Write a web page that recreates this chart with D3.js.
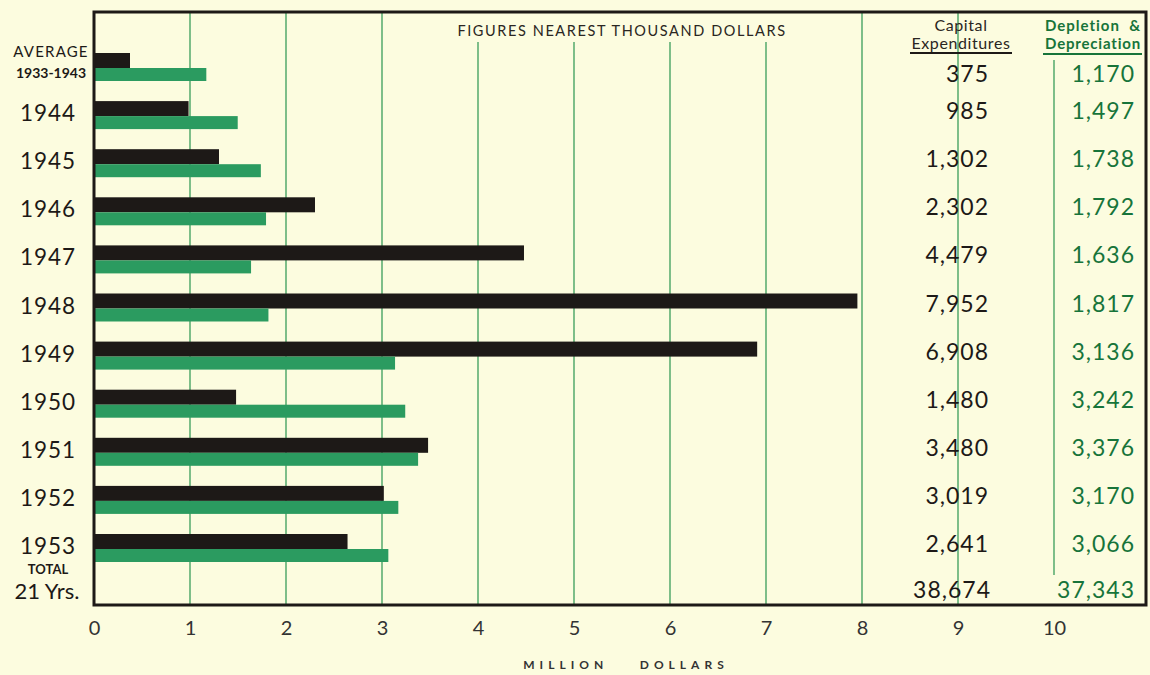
<!DOCTYPE html>
<html>
<head>
<meta charset="utf-8">
<title>Capital Expenditures vs Depletion & Depreciation</title>
<script src="https://cdn.jsdelivr.net/npm/d3@7"></script>
<style>
	body { margin: 0; background: #fcfcdf; }
	svg { display: block; font-family: Lato, "Open Sans", sans-serif; }
</style>
</head>
<body>
<svg width="1150" height="675"></svg>
<script>
	// values in thousand dollars
	var rows = ['avg', '1944', '1945', '1946', '1947', '1948', '1949', '1950', '1951', '1952', '1953']
	var capital = [375, 985, 1302, 2302, 4479, 7952, 6908, 1480, 3480, 3019, 2641]
	var depletion = [1170, 1497, 1738, 1792, 1636, 1817, 3136, 3242, 3376, 3170, 3066]
	var capitalTotal = 38674
	var depletionTotal = 37343
	var ticks = [0, 1, 2, 3, 4, 5, 6, 7, 8, 9, 10]

	var black = '#1d1917',
		green = '#2b9b60',
		gridGreen = '#3a9d5a',
		textGreen = '#17743a'

	var svg = d3.select('svg')
	var fmt = d3.format(',')

	var x = d3.scaleLinear().domain([0, 10]).range([94, 1054])
	var y = d3.scalePoint().domain(rows).range([68, 549])

	var plotTop = 12, plotBottom = 605, plotRight = 1146

	// gridlines
	function gridTop(t) {
		if (t >= 4 && t <= 7) return 42
		if (t == 10) return 60
		return plotTop
	}
	svg.selectAll('.grid')
		.data(ticks.slice(1))
		.enter().append('line')
		.attr('x1', d => x(d)).attr('x2', d => x(d))
		.attr('y1', d => gridTop(d))
		.attr('y2', d => d == 10 ? 575 : plotBottom)
		.attr('stroke', gridGreen)
		.attr('stroke-width', 1.3)

	// bars
	svg.selectAll('.cap')
		.data(capital)
		.enter().append('rect')
		.attr('x', x(0))
		.attr('y', (d, i) => y(rows[i]) - 15)
		.attr('width', d => x(d / 1000) - x(0))
		.attr('height', 15)
		.attr('fill', black)

	svg.selectAll('.dep')
		.data(depletion)
		.enter().append('rect')
		.attr('x', x(0))
		.attr('y', (d, i) => y(rows[i]))
		.attr('width', d => x(d / 1000) - x(0))
		.attr('height', 13)
		.attr('fill', green)

	// frame
	svg.append('rect')
		.attr('x', x(0)).attr('y', plotTop)
		.attr('width', plotRight - x(0)).attr('height', plotBottom - plotTop)
		.attr('fill', 'none')
		.attr('stroke', black)
		.attr('stroke-width', 3)

	// row labels
	svg.append('text').attr('x', 51).attr('y', y('avg') - 11)
		.attr('text-anchor', 'middle').attr('font-size', 15).attr('letter-spacing', 1.2)
		.attr('fill', black).text('AVERAGE')
	svg.append('text').attr('x', 51).attr('y', y('avg') + 10)
		.attr('text-anchor', 'middle').attr('font-size', 14).attr('font-weight', 'bold')
		.attr('fill', black).text('1933-1943')

	svg.selectAll('.year')
		.data(rows.slice(1))
		.enter().append('text')
		.attr('x', 48)
		.attr('y', d => y(d) + 5)
		.attr('text-anchor', 'middle')
		.attr('font-size', 22.5)
		.attr('letter-spacing', 1)
		.attr('fill', black)
		.text(d => d)

	svg.append('text').attr('x', 48).attr('y', 574)
		.attr('text-anchor', 'middle').attr('font-size', 13).attr('font-weight', 'bold')
		.attr('fill', black).text('TOTAL')
	svg.append('text').attr('x', 47).attr('y', 599)
		.attr('text-anchor', 'middle').attr('font-size', 22)
		.attr('fill', black).text('21 Yrs.')

	// title
	svg.append('text').attr('x', 622).attr('y', 36)
		.attr('text-anchor', 'middle').attr('font-size', 14.5).attr('letter-spacing', 1.6)
		.attr('fill', '#2a2622').text('FIGURES NEAREST THOUSAND DOLLARS')

	// table headers
	svg.append('text').attr('x', 961).attr('y', 31)
		.attr('text-anchor', 'middle').attr('font-size', 16).attr('letter-spacing', 0.6)
		.attr('fill', '#2a2622').text('Capital')
	svg.append('text').attr('x', 961).attr('y', 49)
		.attr('text-anchor', 'middle').attr('font-size', 16).attr('letter-spacing', 0.6)
		.attr('fill', '#2a2622').text('Expenditures')
	svg.append('line').attr('x1', 910).attr('x2', 1012).attr('y1', 53).attr('y2', 53)
		.attr('stroke', black).attr('stroke-width', 2)

	svg.append('text').attr('x', 1093).attr('y', 31)
		.attr('text-anchor', 'middle').attr('font-size', 15).attr('font-weight', 'bold')
		.attr('letter-spacing', 1).attr('fill', textGreen)
		.attr('xml:space', 'preserve').text('Depletion  &')
	svg.append('text').attr('x', 1093).attr('y', 49)
		.attr('text-anchor', 'middle').attr('font-size', 15).attr('font-weight', 'bold')
		.attr('letter-spacing', 0.8).attr('fill', textGreen).text('Depreciation')
	svg.append('line').attr('x1', 1043).attr('x2', 1142).attr('y1', 54).attr('y2', 54)
		.attr('stroke', textGreen).attr('stroke-width', 2)

	// table values (first row sits a little lower, under the headers)
	function valueY(i) {
		return y(rows[i]) + (i == 0 ? 14 : 3)
	}
	svg.selectAll('.capv')
		.data(capital)
		.enter().append('text')
		.attr('x', 989)
		.attr('y', (d, i) => valueY(i))
		.attr('text-anchor', 'end')
		.attr('font-size', 23)
		.attr('letter-spacing', 1)
		.attr('fill', black)
		.text(d => fmt(d))

	svg.selectAll('.depv')
		.data(depletion)
		.enter().append('text')
		.attr('x', 1135)
		.attr('y', (d, i) => valueY(i))
		.attr('text-anchor', 'end')
		.attr('font-size', 23)
		.attr('letter-spacing', 1)
		.attr('fill', textGreen)
		.text(d => fmt(d))

	svg.append('text').attr('x', 991).attr('y', 598)
		.attr('text-anchor', 'end').attr('font-size', 23).attr('letter-spacing', 1)
		.attr('fill', black).text(fmt(capitalTotal))
	svg.append('text').attr('x', 1135).attr('y', 598)
		.attr('text-anchor', 'end').attr('font-size', 23).attr('letter-spacing', 1)
		.attr('fill', textGreen).text(fmt(depletionTotal))

	// x axis
	var axis = svg.append('g')
		.attr('transform', 'translate(0,' + plotBottom + ')')
		.call(d3.axisBottom(x).tickValues(ticks).tickSize(0).tickPadding(16))
	axis.select('.domain').remove()
	axis.selectAll('text')
		.attr('font-size', 20)
		.attr('font-family', 'Lato, sans-serif')
		.attr('fill', '#333')

	svg.append('text').attr('x', 626).attr('y', 669)
		.attr('text-anchor', 'middle').attr('font-size', 12).attr('font-weight', 'bold')
		.attr('letter-spacing', 5).attr('fill', '#333')
		.attr('xml:space', 'preserve').text('MILLION    DOLLARS')
</script>
</body>
</html>
